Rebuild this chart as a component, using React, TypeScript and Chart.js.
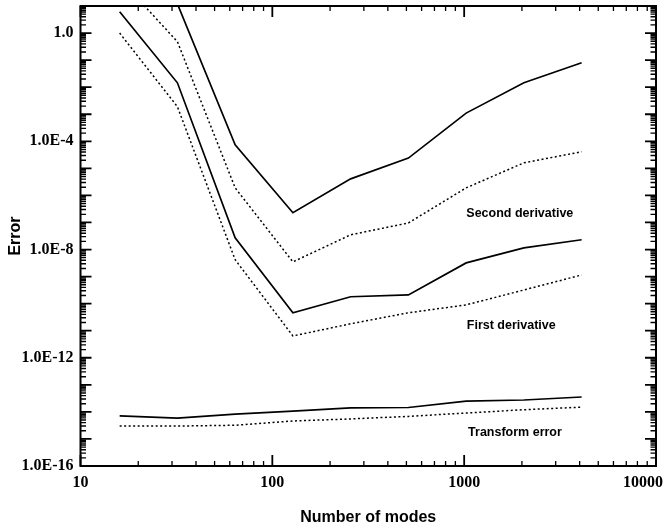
import React, { useEffect, useRef } from "react";
import { Chart, registerables } from "chart.js";

Chart.register(...registerables);

// Number of modes (x values)
const modes = [16, 32, 64, 128, 256, 512, 1024, 2048, 4096];

// Error values
const secondDerivSolid = [null, 12, 7.4e-5, 2.3e-7, 4.1e-6, 2.4e-5, 1.1e-3, 0.0145, 0.08];
const secondDerivDotted = [100, 0.48, 1.9e-6, 3.5e-9, 3.5e-8, 9.6e-8, 1.9e-6, 1.6e-5, 4.1e-5];
const firstDerivSolid = [6.1, 0.0145, 2.7e-8, 4.6e-11, 1.8e-10, 2.1e-10, 3.2e-9, 1.15e-8, 2.3e-8];
const firstDerivDotted = [1.0, 1.9e-3, 4.2e-9, 6.4e-12, 1.8e-11, 4.6e-11, 9e-11, 3.2e-10, 1.15e-9];
const transformSolid = [7.1e-15, 5.9e-15, 8.3e-15, 1.07e-14, 1.4e-14, 1.45e-14, 2.5e-14, 2.75e-14, 3.55e-14];
const transformDotted = [3e-15, 3e-15, 3.2e-15, 4.6e-15, 5.5e-15, 6.8e-15, 9.1e-15, 1.2e-14, 1.5e-14];

// Tick labels
const xTickValues = [10, 100, 1000, 10000];
const xTickLabels = ["10", "100", "1000", "10000"];
const yTickValues = [1e-16, 1e-12, 1e-8, 1e-4, 1];
const yTickLabels = ["1.0E-16", "1.0E-12", "1.0E-8", "1.0E-4", "1.0"];

// In-plot curve labels (anchored in data coordinates)
const curveLabels = ["Second derivative", "First derivative", "Transform error"];
const curveLabelX = [1950, 1760, 1840];
const curveLabelY = [2.2e-7, 1.5e-11, 1.7e-15];

const toPoints = (ys: (number | null)[]) => modes.map((m, i) => ({ x: m, y: ys[i] }));

const frameTicksPlugin = {
  id: "frameTicks",
  afterDatasetsDraw(chart: any) {
    const { ctx, chartArea, scales } = chart;
    const { left, right, top, bottom } = chartArea;
    const xs = scales.x;
    const ys = scales.y;
    ctx.save();
    ctx.strokeStyle = "#000";
    ctx.fillStyle = "#000";

    const decadeTicks = (min: number, max: number) => {
      const out: { v: number; major: boolean }[] = [];
      const e0 = Math.floor(Math.log10(min)) - 1;
      const e1 = Math.ceil(Math.log10(max)) + 1;
      for (let e = e0; e <= e1; e++) {
        for (let m = 1; m <= 9; m++) {
          const v = m * Math.pow(10, e);
          if (v < min * 0.9999 || v > max * 1.0001) continue;
          out.push({ v, major: m === 1 });
        }
      }
      return out;
    };

    // x ticks (inward, bottom and top)
    for (const t of decadeTicks(xs.min, xs.max)) {
      const px = xs.getPixelForValue(t.v);
      const len = t.major ? 11 : 5;
      ctx.lineWidth = t.major ? 1.8 : 1.3;
      ctx.beginPath();
      ctx.moveTo(px, bottom);
      ctx.lineTo(px, bottom - len);
      ctx.moveTo(px, top);
      ctx.lineTo(px, top + len);
      ctx.stroke();
    }
    // y ticks (inward, left and right)
    for (const t of decadeTicks(ys.min, ys.max)) {
      const py = ys.getPixelForValue(t.v);
      const len = t.major ? 11 : 5.5;
      ctx.lineWidth = t.major ? 1.8 : 1.4;
      ctx.beginPath();
      ctx.moveTo(left, py);
      ctx.lineTo(left + len, py);
      ctx.moveTo(right, py);
      ctx.lineTo(right - len, py);
      ctx.stroke();
    }

    // frame
    ctx.lineWidth = 2;
    ctx.strokeRect(left, top, right - left, bottom - top);

    // x tick labels
    ctx.font = 'bold 16px "Liberation Serif"';
    ctx.textAlign = "center";
    ctx.textBaseline = "middle";
    xTickValues.forEach((v, i) => {
      let px = xs.getPixelForValue(v);
      const w = ctx.measureText(xTickLabels[i]).width;
      if (px + w / 2 > chart.width - 1) px = chart.width - 1 - w / 2;
      ctx.fillText(xTickLabels[i], px, bottom + 16.5);
    });

    // curve labels
    ctx.font = 'bold 12.5px "Liberation Sans"';
    curveLabels.forEach((txt, i) => {
      ctx.fillText(txt, xs.getPixelForValue(curveLabelX[i]), ys.getPixelForValue(curveLabelY[i]));
    });
    ctx.restore();
  },
};

export default function App() {
  const canvasRef = useRef<HTMLCanvasElement | null>(null);

  useEffect(() => {
    const canvas = canvasRef.current;
    if (!canvas) return;
    const solid = { borderColor: "#000", borderWidth: 1.7, pointRadius: 0, fill: false, tension: 0 };
    const dotted = { ...solid, borderWidth: 1.5, borderDash: [2, 2.5] };
    const chart = new Chart(canvas, {
      type: "line",
      data: {
        datasets: [
          { label: "Second derivative (solid)", data: toPoints(secondDerivSolid), ...solid },
          { label: "Second derivative (dotted)", data: toPoints(secondDerivDotted), ...dotted },
          { label: "First derivative (solid)", data: toPoints(firstDerivSolid), ...solid },
          { label: "First derivative (dotted)", data: toPoints(firstDerivDotted), ...dotted },
          { label: "Transform error (solid)", data: toPoints(transformSolid), ...solid },
          { label: "Transform error (dotted)", data: toPoints(transformDotted), ...dotted },
        ] as any,
      },
      options: {
        animation: false,
        responsive: false,
        layout: { padding: { top: 6, right: 8, bottom: 0, left: 0 } },
        plugins: { legend: { display: false }, tooltip: { enabled: false } },
        scales: {
          x: {
            type: "logarithmic",
            min: 10,
            max: 10000,
            grid: { display: false },
            border: { display: false },
            ticks: { display: false },
            title: {
              display: true,
              text: "Number of modes",
              color: "#000",
              font: { family: '"Liberation Sans"', size: 16, weight: "bold" },
              padding: { top: 0, bottom: 4.4 },
            },
            afterFit: (s: any) => {
              s.height = 66;
              s.paddingLeft = 0;
              s.paddingRight = 0;
            },
          },
          y: {
            type: "logarithmic",
            min: 1e-16,
            max: 10,
            grid: { display: false, drawTicks: false },
            border: { display: false },
            afterBuildTicks: (s: any) => {
              s.ticks = yTickValues.map((v) => ({ value: v }));
            },
            ticks: {
              autoSkip: false,
              padding: 7,
              color: "#000",
              font: { family: '"Liberation Serif"', size: 16, weight: "bold" },
              callback: (_v: any, i: number) => yTickLabels[i],
            },
            title: {
              display: true,
              text: "Error",
              color: "#000",
              font: { family: '"Liberation Sans"', size: 16, weight: "bold" },
              padding: { top: 6, bottom: 0 },
            },
            afterFit: (s: any) => {
              s.width = 80.5;
              s.paddingTop = 0;
              s.paddingBottom = 0;
            },
          },
        },
      } as any,
      plugins: [frameTicksPlugin],
    });
    return () => chart.destroy();
  }, []);

  return (
    <div style={{ position: "absolute", left: 0, top: 0, width: 664, height: 532, background: "#fff" }}>
      <canvas ref={canvasRef} width={664} height={532} style={{ display: "block" }} />
    </div>
  );
}
